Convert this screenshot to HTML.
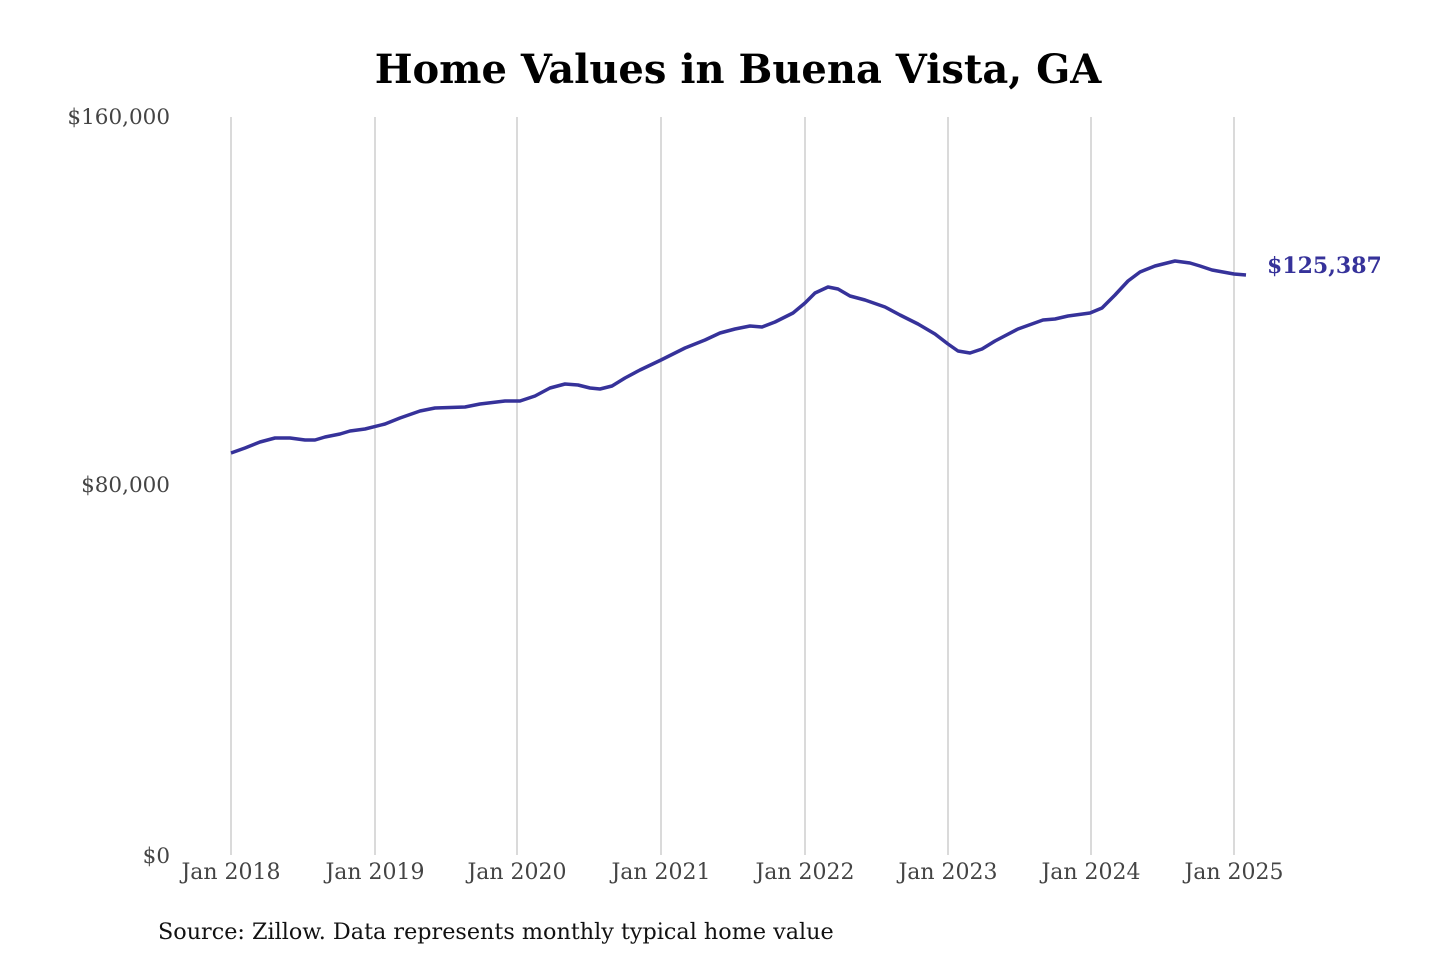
<!DOCTYPE html>
<html><head><meta charset="utf-8"><style>
body{margin:0;background:#fff;}
svg text{font-family:"DejaVu Serif","Liberation Serif",serif;}
</style></head><body>
<svg width="1440" height="960" xmlns="http://www.w3.org/2000/svg">
<rect width="1440" height="960" fill="#fff"/>
<text x="738" y="83" text-anchor="middle" font-size="40" font-weight="bold" fill="#000">Home Values in Buena Vista, GA</text>
<g stroke="#b5b5b5" stroke-width="1">
<line x1="231" y1="117" x2="231" y2="855"/><line x1="375" y1="117" x2="375" y2="855"/>
<line x1="517" y1="117" x2="517" y2="855"/><line x1="661" y1="117" x2="661" y2="855"/>
<line x1="805" y1="117" x2="805" y2="855"/><line x1="948" y1="117" x2="948" y2="855"/>
<line x1="1091" y1="117" x2="1091" y2="855"/><line x1="1234" y1="117" x2="1234" y2="855"/>
</g>
<g font-size="21.5" fill="#444" text-anchor="end">
<text x="170" y="124">$160,000</text><text x="170" y="492">$80,000</text><text x="170" y="863">$0</text>
</g>
<g font-size="22" fill="#444" text-anchor="middle">
<text x="231" y="879">Jan 2018</text><text x="375" y="879">Jan 2019</text><text x="517" y="879">Jan 2020</text>
<text x="661" y="879">Jan 2021</text><text x="805" y="879">Jan 2022</text><text x="948" y="879">Jan 2023</text>
<text x="1091" y="879">Jan 2024</text><text x="1234" y="879">Jan 2025</text>
</g>
<polyline fill="none" stroke="#36329a" stroke-width="3.5" stroke-linejoin="round" points="231,453 245,448 260,442 275,438 290,438 305,440 315,440 325,437 340,434 350,431 365,429 385,424 400,418 420,411 435,408 465,407 480,404 505,401 520,401 535,396 550,388 565,384 578,385 590,388 600,389 612,386 625,378 640,370 661,360 685,348 705,340 720,333 735,329 750,326 762,327 775,322 793,313 805,303 815,293 828,287 838,289 850,296 865,300 885,307 900,315 918,324 935,334 948,344 958,351 970,353 982,349 995,341 1018,329 1043,320 1055,319 1068,316 1090,313 1102,308 1115,295 1128,281 1140,272 1155,266 1175,261 1190,263 1200,266 1212,270 1234,274 1246,275"/>
<text x="1267" y="273" font-size="22" font-weight="bold" fill="#36329a">$125,387</text>
<text x="158" y="939" font-size="22.3" fill="#111">Source: Zillow. Data represents monthly typical home value</text>
</svg>
</body></html>
